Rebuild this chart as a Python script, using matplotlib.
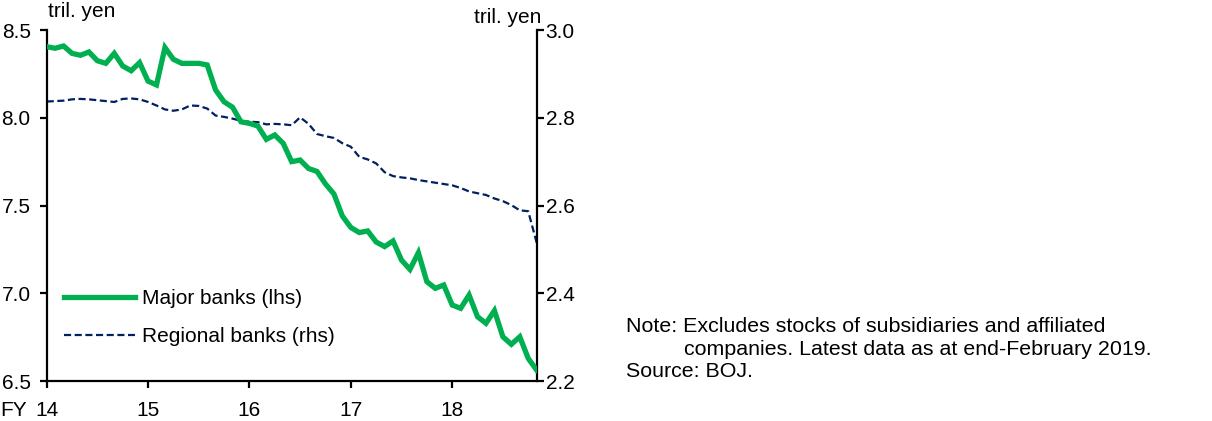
import matplotlib
matplotlib.use("Agg")
import matplotlib.pyplot as plt
import numpy as np

plt.rcParams["font.family"] = ["Liberation Sans", "DejaVu Sans"]

# Monthly outstanding stockholdings, April 2014 (FY14) to February 2019, tril. yen
major_banks = [
    8.405, 8.396, 8.409, 8.367, 8.356, 8.375, 8.325, 8.310, 8.367, 8.295,
    8.268, 8.314, 8.209, 8.187, 8.400, 8.333, 8.310, 8.310, 8.310, 8.301,
    8.158, 8.091, 8.060, 7.977, 7.968, 7.953, 7.877, 7.902, 7.854, 7.750,
    7.759, 7.711, 7.694, 7.623, 7.566, 7.440, 7.375, 7.346, 7.355, 7.292,
    7.266, 7.298, 7.189, 7.136, 7.231, 7.066, 7.028, 7.047, 6.933, 6.914,
    6.990, 6.866, 6.829, 6.901, 6.752, 6.709, 6.752, 6.629, 6.562,
]
regional_banks = [
    2.837, 2.838, 2.839, 2.842, 2.843, 2.842, 2.840, 2.838, 2.836, 2.843,
    2.844, 2.842, 2.836, 2.828, 2.819, 2.816, 2.819, 2.828, 2.827, 2.821,
    2.805, 2.802, 2.798, 2.793, 2.791, 2.790, 2.785, 2.786, 2.785, 2.783,
    2.801, 2.786, 2.763, 2.758, 2.754, 2.742, 2.734, 2.711, 2.705, 2.696,
    2.676, 2.667, 2.664, 2.662, 2.658, 2.655, 2.652, 2.649, 2.646, 2.640,
    2.632, 2.628, 2.624, 2.616, 2.610, 2.601, 2.589, 2.587, 2.515,
]
fy_ticks = [14, 15, 16, 17, 18]
fy_labels = ["14", "15", "16", "17", "18"]
lhs_ticks = [6.5, 7.0, 7.5, 8.0, 8.5]
rhs_ticks = [2.2, 2.4, 2.6, 2.8, 3.0]
series_labels = ["Major banks (lhs)", "Regional banks (rhs)"]

GREEN = "#00b050"
NAVY = "#002060"
FS = 15

x = fy_ticks[0] + np.arange(len(major_banks)) / 12.0

fig = plt.figure(figsize=(12.12, 4.21), dpi=100)
ax = fig.add_axes([0.0385, 0.095, 0.4043, 0.8337])
ax2 = ax.twinx()

l1, = ax.plot(x, major_banks, color=GREEN, lw=3.8, solid_joinstyle="miter",
              label=series_labels[0], zorder=3)
l2, = ax2.plot(x, regional_banks, color=NAVY, lw=1.6, dashes=(3.2, 1.6),
               label=series_labels[1], zorder=2)
ax.set_zorder(ax2.get_zorder() + 1)
ax.patch.set_visible(False)

ax.set_xlim(x[0], x[-1])
ax.set_ylim(6.5, 8.5)
ax2.set_ylim(2.2, 3.0)
ax.set_xticks(fy_ticks)
ax.set_xticklabels(fy_labels)
ax.set_yticks(lhs_ticks)
ax.set_yticklabels([f"{v:.1f}" for v in lhs_ticks])
ax2.set_yticks(rhs_ticks)
ax2.set_yticklabels([f"{v:.1f}" for v in rhs_ticks])

for a in (ax, ax2):
    a.spines["top"].set_visible(False)
    for s in ("left", "right", "bottom"):
        a.spines[s].set_linewidth(1.6)
        a.spines[s].set_color("black")
    a.tick_params(direction="out", length=5, width=1.6, labelsize=FS,
                  colors="black")
ax.tick_params(axis="x", pad=9.5)
ax.tick_params(axis="y", pad=6.5)
ax2.tick_params(axis="y", pad=1.5)
ax.spines["right"].set_visible(False)
ax2.spines["left"].set_visible(False)
ax2.spines["bottom"].set_visible(False)

ax.text(0.003, 1.025, "tril. yen", transform=ax.transAxes, fontsize=FS,
        ha="left", va="bottom")
ax2.text(1.01, 1.01, "tril. yen", transform=ax2.transAxes, fontsize=FS,
         ha="right", va="bottom")
fig.text(0.0, 0.026, "FY", fontsize=FS, ha="left", va="center")

ax.legend(handles=[l1, l2], loc="lower left", bbox_to_anchor=(0.018, 0.075),
          frameon=False, fontsize=FS, handlelength=3.4, handletextpad=0.35,
          labelspacing=0.93, borderaxespad=0)

NOTE_FS = 15.4
fig.text(0.5165, 0.225, "Note: Excludes stocks of subsidiaries and affiliated",
         fontsize=NOTE_FS, ha="left", va="center")
fig.text(0.5645, 0.17, "companies. Latest data as at end-February 2019.",
         fontsize=NOTE_FS, ha="left", va="center")
fig.text(0.5165, 0.117, "Source: BOJ.", fontsize=NOTE_FS, ha="left",
         va="center")

fig.savefig("out.png", dpi=100)
